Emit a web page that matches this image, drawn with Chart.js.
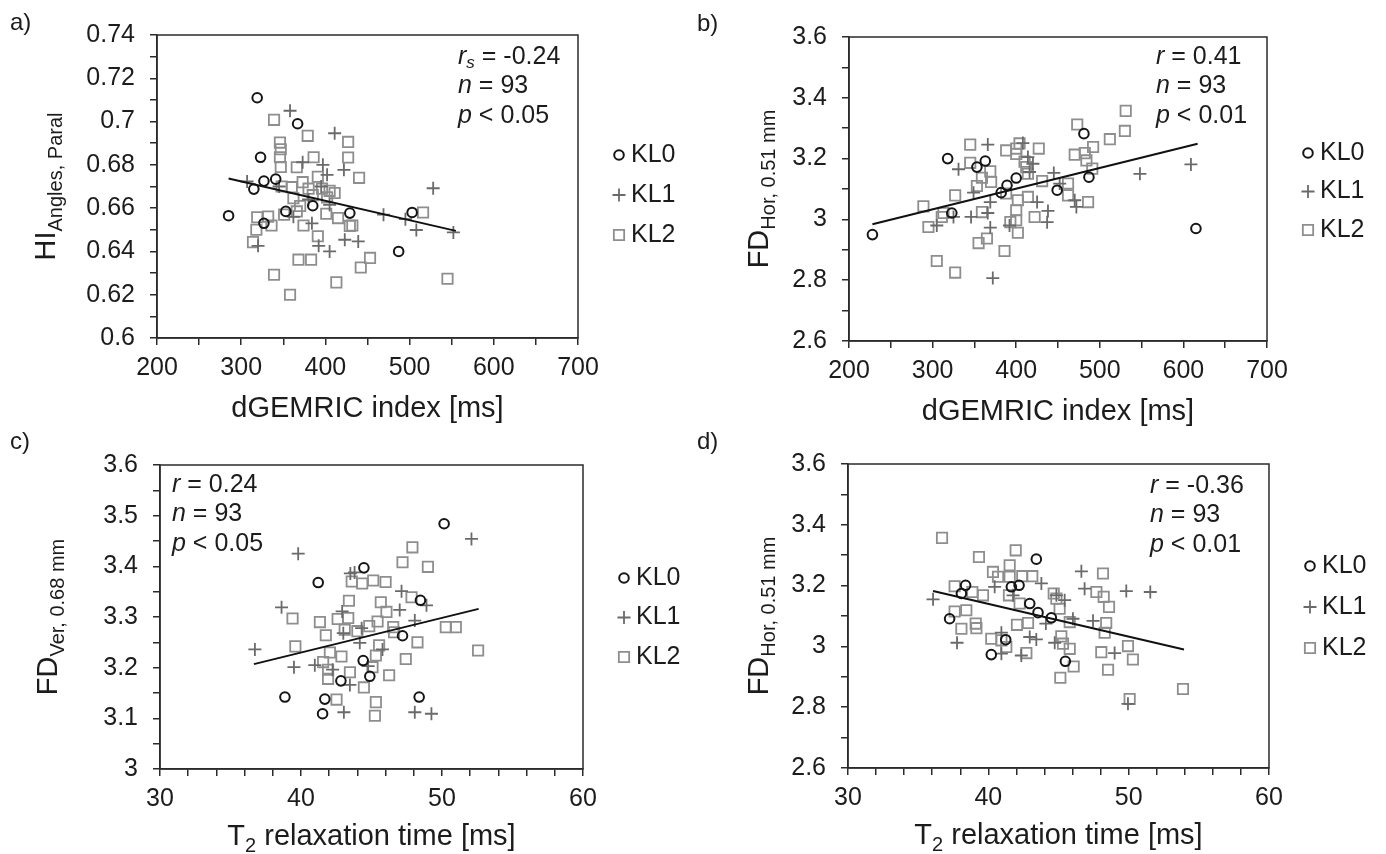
<!DOCTYPE html>
<html>
<head>
<meta charset="utf-8">
<script src="https://cdn.jsdelivr.net/npm/chart.js@4.4.1/dist/chart.umd.min.js"></script>
<style>
  html, body { margin: 0; padding: 0; background: #fff; }
  #wrap { position: relative; width: 1386px; height: 854px; overflow: hidden; }
  canvas { position: absolute; }
</style>
</head>
<body>
<div id="wrap">
  <canvas id="pa" style="left:0;top:0"></canvas>
  <canvas id="pb" style="left:693px;top:0"></canvas>
  <canvas id="pc" style="left:0;top:427px"></canvas>
  <canvas id="pd" style="left:693px;top:427px"></canvas>
</div>
<script>
// ---- data: [x, y] ----
// a) dGEMRIC index vs HI Angles, Paral
const aKL0 = [[319,0.711],[367,0.699],[323,0.6835],[327,0.6725],[315,0.6688],[285,0.6565],[327,0.653],[341,0.6734],[353,0.6585],[385,0.6611],[429,0.6577],[487,0.640],[503,0.658]];
const aKL1 = [[358,0.705],[411,0.6946],[307,0.6723],[320,0.6426],[373,0.6812],[397,0.680],[402,0.6754],[422,0.6777],[528,0.6692],[469,0.657],[495,0.6549],[508,0.6499],[552,0.6488],[384,0.653],[392,0.6426],[405,0.640],[423,0.6454],[439,0.6446],[362,0.656],[405,0.6615],[345,0.670],[380,0.664],[395,0.670]];
const aKL2 = [[339,0.7008],[379,0.6934],[346,0.6903],[347,0.6872],[427,0.6906],[386,0.6835],[427,0.6834],[346,0.6835],[366,0.6789],[347,0.679],[440,0.674],[391,0.6745],[373,0.672],[360,0.6697],[380,0.669],[396,0.669],[405,0.668],[411,0.667],[348,0.670],[362,0.6646],[370,0.661],[366,0.6585],[401,0.6574],[415,0.6554],[429,0.6518],[374,0.652],[391,0.647],[319,0.6558],[332,0.6561],[336,0.652],[318,0.650],[314,0.6443],[368,0.6362],[383,0.6362],[339,0.6292],[358,0.620],[413,0.6257],[442,0.6326],[453,0.637],[516,0.658],[545,0.6274],[351,0.657],[385,0.666],[402,0.665],[432,0.652]];
const aFit = [[285,0.6737],[555,0.6495]];

// b) dGEMRIC index vs FD Hor, 0.51 mm
const bKL0 = [[228,2.95],[318,3.2],[353,3.172],[363,3.192],[382,3.088],[389,3.112],[400,3.136],[449,3.096],[481,3.282],[487,3.139],[615,2.97],[323,3.021]];
const bKL1 = [[366,3.246],[408,3.251],[331,3.165],[414,3.205],[420,3.183],[416,3.156],[445,3.153],[548,3.150],[609,3.181],[349,3.088],[369,3.057],[366,3.021],[346,3.008],[369,2.973],[372,2.807],[425,3.057],[438,3.028],[437,2.991],[470,3.063],[472,3.041],[305,2.98],[325,3.008],[392,2.98],[452,3.118]];
const bKL2 = [[531,3.357],[530,3.291],[512,3.264],[473,3.312],[492,3.238],[470,3.213],[482,3.218],[484,3.194],[491,3.167],[345,3.246],[388,3.227],[400,3.233],[427,3.233],[345,3.186],[369,3.158],[370,3.123],[359,3.137],[353,3.11],[327,3.079],[289,3.043],[295,2.975],[311,3.008],[313,3.021],[305,2.863],[327,2.825],[355,2.922],[365,2.937],[386,2.896],[402,2.956],[393,2.991],[400,2.997],[400,3.03],[402,3.063],[414,3.074],[422,3.008],[431,3.126],[462,3.118],[462,3.079],[486,3.057],[359,3.024],[412,3.172],[414,3.150],[388,3.085],[400,3.215],[410,3.19],[404,3.25]];
const bFit = [[228,2.984],[617,3.249]];

// c) T2 relaxation time vs FD Ver, 0.68 mm
const cKL0 = [[50.15,3.484],[44.46,3.397],[41.22,3.368],[48.47,3.333],[47.2,3.263],[44.41,3.214],[44.88,3.183],[42.83,3.174],[38.86,3.142],[41.69,3.138],[48.38,3.142],[41.53,3.109]];
const cKL1 = [[52.09,3.454],[39.8,3.425],[43.5,3.386],[43.8,3.388],[38.62,3.319],[47.13,3.351],[48.9,3.323],[47.0,3.314],[48.07,3.293],[42.92,3.311],[36.73,3.236],[39.5,3.201],[40.98,3.205],[43.0,3.268],[44.17,3.249],[45.78,3.236],[43.47,3.166],[43.04,3.112],[48.07,3.112],[49.25,3.109],[42.24,3.196],[44.76,3.203],[44.3,3.278]];
const cKL2 = [[47.9,3.4375],[47.2,3.408],[49.0,3.399],[45.12,3.372],[46.0,3.369],[44.34,3.366],[47.84,3.339],[43.4,3.332],[45.66,3.329],[46.06,3.31],[39.4,3.297],[41.34,3.29],[42.6,3.296],[43.35,3.298],[45.43,3.291],[41.76,3.264],[43.1,3.275],[44.0,3.272],[44.84,3.282],[46.54,3.28],[46.6,3.27],[50.27,3.28],[50.98,3.28],[39.6,3.242],[48.26,3.25],[52.56,3.234],[45.54,3.244],[42.05,3.23],[42.87,3.222],[45.31,3.224],[47.43,3.217],[41.57,3.211],[41.92,3.196],[43.47,3.191],[45.07,3.201],[46.25,3.185],[41.92,3.178],[44.46,3.161],[42.52,3.137],[45.31,3.132],[45.24,3.105],[43.6,3.37]];
const cFit = [[36.66,3.207],[52.6,3.316]];

// d) T2 relaxation time vs FD Hor, 0.51 mm
const dKL0 = [[43.42,3.287],[38.38,3.201],[38.08,3.174],[41.64,3.196],[42.19,3.201],[42.95,3.141],[43.54,3.111],[44.49,3.094],[37.24,3.091],[41.24,3.022],[40.21,2.973],[45.49,2.951]];
const dKL1 = [[36.06,3.155],[40.45,3.196],[43.78,3.207],[46.63,3.247],[46.86,3.19],[49.83,3.182],[51.54,3.179],[44.85,3.168],[45.44,3.152],[46.03,3.091],[47.46,3.084],[37.77,3.012],[40.93,3.045],[40.93,2.976],[42.35,2.97],[42.95,3.031],[43.42,3.023],[44.73,3.012],[44.1,3.075],[49.0,2.978],[49.95,2.811],[41.76,3.168]];
const dKL2 = [[36.7,3.357],[39.33,3.294],[41.95,3.316],[48.17,3.24],[40.33,3.245],[40.69,3.229],[41.52,3.267],[41.52,3.229],[42.42,3.231],[43.13,3.231],[37.6,3.198],[38.86,3.179],[39.62,3.168],[41.47,3.168],[42.23,3.141],[44.66,3.174],[44.85,3.157],[45.08,3.124],[47.7,3.179],[48.22,3.163],[48.6,3.13],[37.6,3.115],[38.43,3.119],[38.08,3.058],[39.1,3.075],[39.15,3.06],[40.21,3.025],[40.93,3.02],[41.28,2.998],[42.04,3.071],[42.83,3.077],[42.71,2.978],[45.2,3.033],[45.32,3.009],[45.8,2.992],[45.8,3.08],[48.4,3.077],[48.29,3.045],[48.05,2.981],[49.95,3.001],[50.3,2.957],[48.53,2.923],[46.08,2.934],[45.13,2.897],[50.07,2.827],[53.87,2.86]];
const dFit = [[36.06,3.182],[53.94,2.99]];

// ---- axis ticks and labels ----
const dgemricTicks = [200,250,300,350,400,450,500,550,600,650,700];
const dgemricLabels = [200,300,400,500,600,700];
const t2Ticks = [30,32,34,36,38,40,42,44,46,48,50,52,54,56,58,60];
const t2Labels = [30,40,50,60];
const hiTicks = [0.6,0.61,0.62,0.63,0.64,0.65,0.66,0.67,0.68,0.69,0.7,0.71,0.72,0.73,0.74];
const hiLabels = [0.6,0.62,0.64,0.66,0.68,0.7,0.72,0.74];
const fdHorTicks = [2.6,2.7,2.8,2.9,3.0,3.1,3.2,3.3,3.4,3.5,3.6];
const fdHorLabels = [2.6,2.8,3.0,3.2,3.4,3.6];
const fdVerTicks = [3.0,3.05,3.1,3.15,3.2,3.25,3.3,3.35,3.4,3.45,3.5,3.55,3.6];
const fdVerLabels = [3.0,3.1,3.2,3.3,3.4,3.5,3.6];

const groupNames = ['KL0', 'KL1', 'KL2'];

const FONT = '"Liberation Sans", Arial, Helvetica, sans-serif';
const INK = '#1c1c1c';
const AXIS = '#2b2b2b';
const YW = 90; // fixed width of the y axis box (labels are clipped to it)
const STYLES = [
  { pointStyle: 'circle', radius: 4.8, color: '#151515', width: 2 },
  { pointStyle: 'cross',  radius: 6.5, color: '#6a6a6a', width: 1.8 },
  { pointStyle: 'rect',   radius: 7.3, color: '#8e8e8e', width: 1.8 }
];

function pts(arr) { return arr.map(p => ({ x: p[0], y: p[1] })); }

function axis(pos, min, max, ticks, labels, size) {
  return {
    type: 'linear', position: pos, min: min, max: max,
    afterBuildTicks: s => { s.ticks = ticks.map(v => ({ value: v })); },
    afterFit: s => { if (pos === 'left') s.width = size; else s.height = size; },
    ticks: {
      autoSkip: false, maxRotation: 0,
      padding: pos === 'left' ? 15 : 8,
      color: INK, font: { family: FONT, size: 25 },
      callback: v => labels.some(l => Math.abs(l - v) < 1e-9) ? String(+v.toFixed(2)) : ''
    },
    grid: { drawOnChartArea: false, drawTicks: true, tickLength: 7, color: AXIS, lineWidth: 1.5 },
    border: { color: AXIS, width: 1.5 }
  };
}

// rich text: segments {t, i (italic), s (subscript)}
function rich(ctx, x, y, segs, size, subSize, subDy, align) {
  const f = (sg) => (sg.i ? 'italic ' : '') + (sg.s ? subSize : size) + 'px ' + FONT;
  let w = 0;
  segs.forEach(sg => { ctx.font = f(sg); w += ctx.measureText(sg.t).width; });
  let cx = align === 'center' ? x - w / 2 : x;
  ctx.textAlign = 'left';
  segs.forEach(sg => {
    ctx.font = f(sg);
    ctx.fillText(sg.t, cx, y + (sg.s ? subDy : 0));
    cx += ctx.measureText(sg.t).width;
  });
}

function marker(ctx, st, x, y) {
  ctx.save();
  ctx.strokeStyle = st.color; ctx.lineWidth = st.width;
  ctx.beginPath();
  if (st.pointStyle === 'circle') {
    ctx.arc(x, y, st.radius, 0, Math.PI * 2);
  } else if (st.pointStyle === 'cross') {
    ctx.moveTo(x - st.radius, y); ctx.lineTo(x + st.radius, y);
    ctx.moveTo(x, y - st.radius); ctx.lineTo(x, y + st.radius);
  } else {
    const h = st.radius * Math.SQRT1_2;
    ctx.rect(x - h, y - h, 2 * h, 2 * h);
  }
  ctx.stroke();
  ctx.restore();
}

const deco = {
  id: 'deco',
  afterDraw(chart, args, o) {
    const ctx = chart.ctx, ca = chart.chartArea;
    ctx.save();
    ctx.strokeStyle = AXIS; ctx.lineWidth = 1.5;
    ctx.strokeRect(ca.left, ca.top, ca.right - ca.left, ca.bottom - ca.top);

    ctx.fillStyle = INK;
    ctx.textBaseline = 'middle';
    ctx.font = '24px ' + FONT; ctx.textAlign = 'left';
    ctx.fillText(o.letter, o.letterX, o.letterY);

    o.stats.forEach((row, i) => rich(ctx, ca.left + o.statX, ca.top + o.statY + i * 29.5, row, 25, 17, 6, 'left'));

    groupNames.forEach((g, i) => {
      const yy = ca.top + o.legY + i * o.legStep;
      marker(ctx, STYLES[i], ca.right + 41, yy);
      ctx.fillStyle = INK; ctx.font = '25px ' + FONT; ctx.textAlign = 'left';
      ctx.fillText(g, ca.right + 53, yy);
    });

    ctx.textBaseline = 'alphabetic';
    rich(ctx, (ca.left + ca.right) / 2, ca.bottom + o.xTitleDy, o.xTitle, 29, 20, 7, 'center');

    ctx.translate(ca.left + o.yTitleDx, (ca.top + ca.bottom) / 2);
    ctx.rotate(-Math.PI / 2);
    rich(ctx, 0, 0, o.yTitle, 29, 20, 7, 'center');
    ctx.restore();
  }
};

function panel(id, groups, fit, xAx, yAx, box, o) {
  const cv = document.getElementById(id);
  cv.width = 693; cv.height = 427;
  cv.style.width = '693px'; cv.style.height = '427px';
  const ds = [{
    label: 'fit', data: pts(fit), showLine: true, borderColor: '#111', borderWidth: 2,
    pointRadius: 0, fill: false, order: 0
  }];
  groups.forEach((g, i) => {
    const st = STYLES[i];
    ds.push({
      label: groupNames[i], data: pts(g), order: i + 1,
      pointStyle: st.pointStyle, pointRadius: st.radius,
      pointBorderColor: st.color, pointBackgroundColor: 'rgba(0,0,0,0)',
      pointBorderWidth: st.width, borderColor: st.color
    });
  });
  return new Chart(cv.getContext('2d'), {
    type: 'scatter',
    data: { datasets: ds },
    options: {
      responsive: false, animation: false, events: [],
      layout: { padding: { left: box[0] - YW, top: box[1], right: 693 - box[2], bottom: 427 - box[3] - 45 } },
      scales: { x: xAx, y: yAx },
      plugins: { legend: { display: false }, tooltip: { enabled: false }, deco: o }
    },
    plugins: [deco]
  });
}

const xDg = () => axis('bottom', 200, 700, dgemricTicks, dgemricLabels, 45);
const xT2 = () => axis('bottom', 30, 60, t2Ticks, t2Labels, 45);
const xTitleDg = [{ t: 'dGEMRIC index [ms]' }];
const xTitleT2 = [{ t: 'T' }, { t: '2', s: 1 }, { t: ' relaxation time [ms]' }];

panel('pa', [aKL0, aKL1, aKL2], aFit, xDg(), axis('left', 0.6, 0.74, hiTicks, hiLabels, YW),
  [157, 35, 578, 338], {
    letter: 'a)', letterX: 10, letterY: 23,
    stats: [[{ t: 'r', i: 1 }, { t: 's', i: 1, s: 1 }, { t: ' = -0.24' }],
            [{ t: 'n', i: 1 }, { t: ' = 93' }],
            [{ t: 'p', i: 1 }, { t: ' < 0.05' }]],
    statX: 301, statY: 22, legY: 120, legStep: 40,
    xTitle: xTitleDg, xTitleDy: 79,
    yTitle: [{ t: 'HI' }, { t: 'Angles, Paral', s: 1 }], yTitleDx: -102
  });

panel('pb', [bKL0, bKL1, bKL2], bFit, xDg(), axis('left', 2.6, 3.6, fdHorTicks, fdHorLabels, YW),
  [156, 37, 574, 341], {
    letter: 'b)', letterX: 4, letterY: 24,
    stats: [[{ t: 'r', i: 1 }, { t: ' = 0.41' }],
            [{ t: 'n', i: 1 }, { t: ' = 93' }],
            [{ t: 'p', i: 1 }, { t: ' < 0.01' }]],
    statX: 307, statY: 20, legY: 116, legStep: 38.5,
    xTitle: xTitleDg, xTitleDy: 79,
    yTitle: [{ t: 'FD' }, { t: 'Hor, 0.51 mm', s: 1 }], yTitleDx: -81
  });

panel('pc', [cKL0, cKL1, cKL2], cFit, xT2(), axis('left', 3.0, 3.6, fdVerTicks, fdVerLabels, YW),
  [160, 38, 583, 342], {
    letter: 'c)', letterX: 10, letterY: 15,
    stats: [[{ t: 'r', i: 1 }, { t: ' = 0.24' }],
            [{ t: 'n', i: 1 }, { t: ' = 93' }],
            [{ t: 'p', i: 1 }, { t: ' < 0.05' }]],
    statX: 12, statY: 20, legY: 113, legStep: 39.5,
    xTitle: xTitleT2, xTitleDy: 76,
    yTitle: [{ t: 'FD' }, { t: 'Ver, 0.68 mm', s: 1 }], yTitleDx: -103
  });

panel('pd', [dKL0, dKL1, dKL2], dFit, xT2(), axis('left', 2.6, 3.6, fdHorTicks, fdHorLabels, YW),
  [155, 37, 576, 341], {
    letter: 'd)', letterX: 4, letterY: 15,
    stats: [[{ t: 'r', i: 1 }, { t: ' = -0.36' }],
            [{ t: 'n', i: 1 }, { t: ' = 93' }],
            [{ t: 'p', i: 1 }, { t: ' < 0.01' }]],
    statX: 302, statY: 22, legY: 102, legStep: 41,
    xTitle: xTitleT2, xTitleDy: 76,
    yTitle: [{ t: 'FD' }, { t: 'Hor, 0.51 mm', s: 1 }], yTitleDx: -80
  });
</script>
</body>
</html>
